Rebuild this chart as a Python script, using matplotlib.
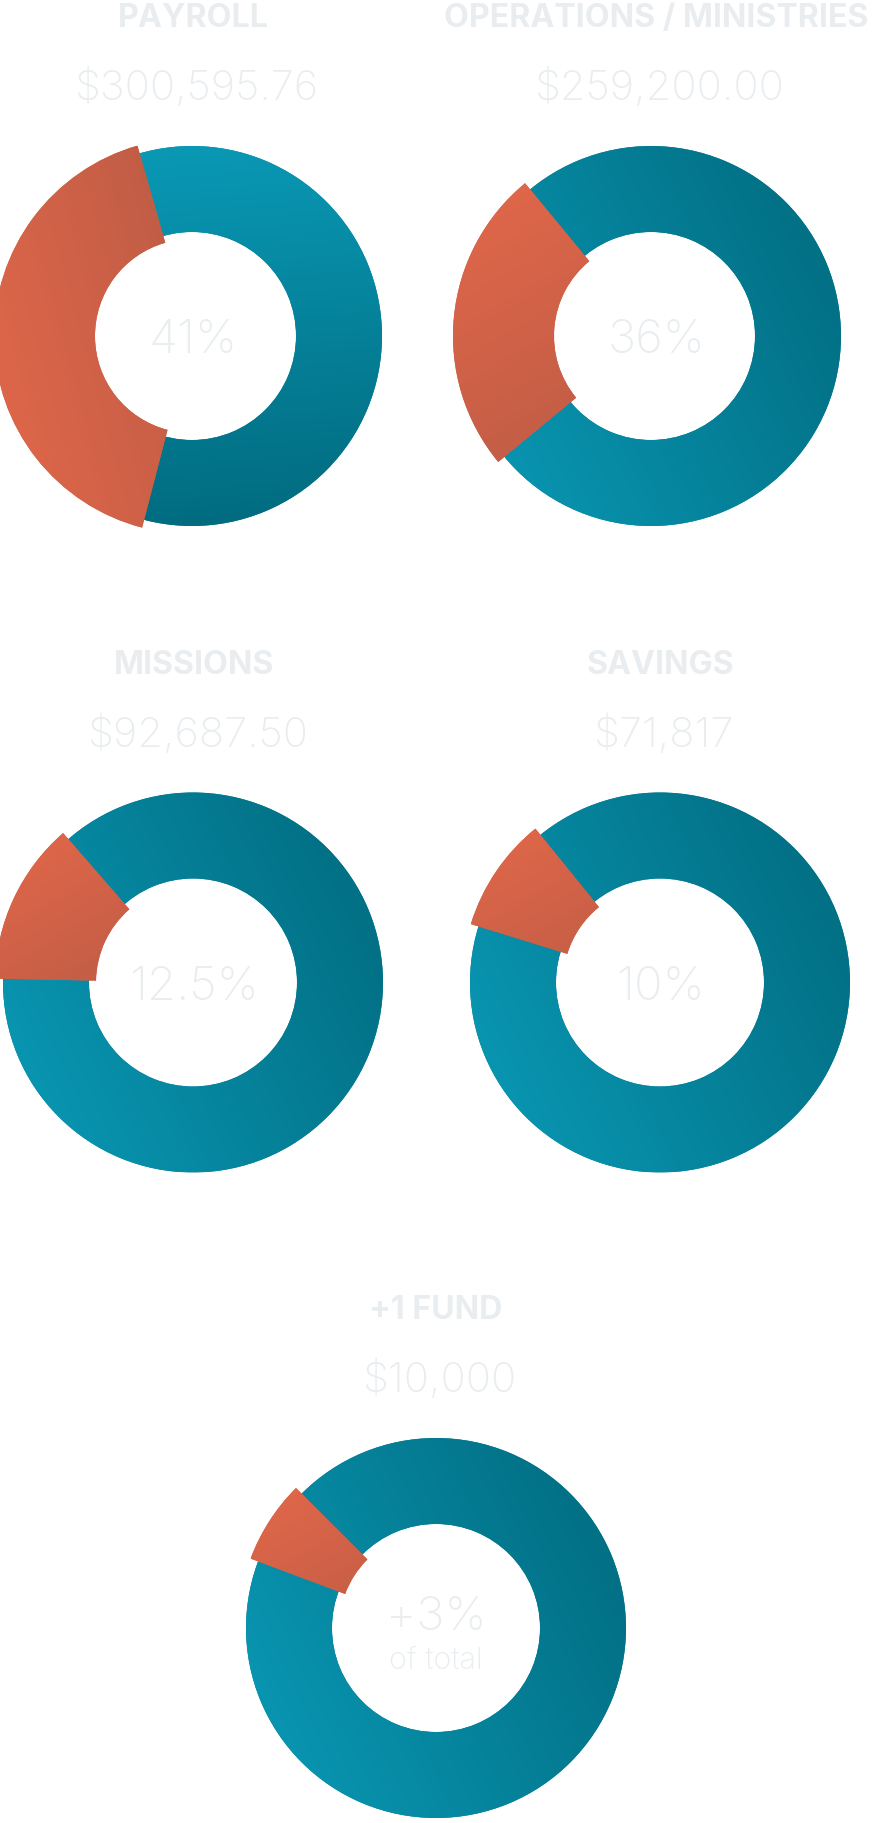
import numpy as np
import matplotlib
matplotlib.use("Agg")
import matplotlib.pyplot as plt
from matplotlib.colors import LinearSegmentedColormap

# ---------------- data ----------------
categories = ["PAYROLL", "OPERATIONS / MINISTRIES", "MISSIONS", "SAVINGS", "+1 FUND"]
amounts = ["$300,595.76", "$259,200.00", "$92,687.50", "$71,817", "$10,000"]
pct_labels = ["41%", "36%", "12.5%", "10%", "+3%"]
sub_labels = ["", "", "", "", "of total"]
slice_share = [0.415, 0.25, 0.133, 0.094, 0.068]   # orange arc share, as drawn

# ---------------- layout / style ----------------
W, H, DPI = 872, 1823, 100
ring_cx = [192, 651, 193, 660, 436]
ring_cy = [336, 336, 982.5, 982.5, 1628]
text_cx = [193, 656, 194, 660, 436]
start_deg = [106, 129.5, 131, 129, 135]
R_OUT, R_IN = 190, 104
O_OUT, O_IN = 198, 97
teal_dir = [-85, 25, 25, 25, 25]
orange_dir = [15, -60, -60, -60, -60]
TEAL_LIGHT, TEAL_DARK = "#0a9ab7", "#016a7e"
OR_LIGHT, OR_DARK = "#e3684a", "#bb5b45"
TXT = "#e9edef"
FONT = ["Inter", "DejaVu Sans"]

fig = plt.figure(figsize=(W / DPI, H / DPI), dpi=DPI, facecolor="white")


def grad_fill(ax, patch, c0, c1, ang, z):
    v = patch.get_path().vertices
    x0, x1 = v[:, 0].min(), v[:, 0].max()
    y0, y1 = v[:, 1].min(), v[:, 1].max()
    n = 300
    X, Y = np.meshgrid(np.linspace(x0, x1, n), np.linspace(y0, y1, n))
    a = np.deg2rad(ang)
    P = X * np.cos(a) + Y * np.sin(a)
    P = (P - P.min()) / (P.max() - P.min())
    cmap = LinearSegmentedColormap.from_list("g", [c0, c1])
    im = ax.imshow(P, extent=(x0, x1, y0, y1), origin="lower", cmap=cmap,
                   vmin=0, vmax=1, interpolation="bilinear", zorder=z)
    im.set_clip_path(patch)
    patch.set_facecolor(cmap(0.5))
    patch.set_edgecolor("none")
    patch.set_zorder(z - 0.5)


HALF = 215
for i in range(len(categories)):
    cx, cy = ring_cx[i], ring_cy[i]
    ax = fig.add_axes([(cx - HALF) / W, (H - cy - HALF) / H, 2 * HALF / W, 2 * HALF / H])
    teal = ax.pie([1], radius=R_OUT, startangle=90,
                  wedgeprops=dict(width=R_OUT - R_IN, linewidth=0))[0][0]
    grad_fill(ax, teal, TEAL_LIGHT, TEAL_DARK, teal_dir[i], 2)
    wedges = ax.pie([slice_share[i], 1 - slice_share[i]], radius=O_OUT,
                    startangle=start_deg[i], counterclock=True,
                    wedgeprops=dict(width=O_OUT - O_IN, linewidth=0))[0]
    wedges[1].set_visible(False)
    grad_fill(ax, wedges[0], OR_LIGHT, OR_DARK, orange_dir[i], 4)
    ax.set_xlim(-HALF, HALF)
    ax.set_ylim(-HALF, HALF)
    ax.set_aspect("equal")
    ax.axis("off")

    tx = text_cx[i]
    fig.text(tx / W, 1 - (cy - 309) / H, categories[i], ha="center", va="baseline",
             fontsize=23.2, fontweight="bold", color=TXT, family=FONT)
    fig.text((tx + 4) / W, 1 - (cy - 236) / H, amounts[i], ha="center", va="baseline",
             fontsize=30, fontweight="light", color=TXT, family=FONT)
    if sub_labels[i]:
        fig.text(tx / W, 1 - (cy + 2) / H, pct_labels[i], ha="center", va="baseline",
                 fontsize=34, fontweight="light", color=TXT, family=FONT)
        fig.text(tx / W, 1 - (cy + 41) / H, sub_labels[i], ha="center", va="baseline",
                 fontsize=22, fontweight="light", color=TXT, family=FONT)
    else:
        fig.text(tx / W, 1 - (cy + 17) / H, pct_labels[i], ha="center", va="baseline",
                 fontsize=34, fontweight="light", color=TXT, family=FONT)

fig.savefig("out.png", dpi=DPI, facecolor="white")
